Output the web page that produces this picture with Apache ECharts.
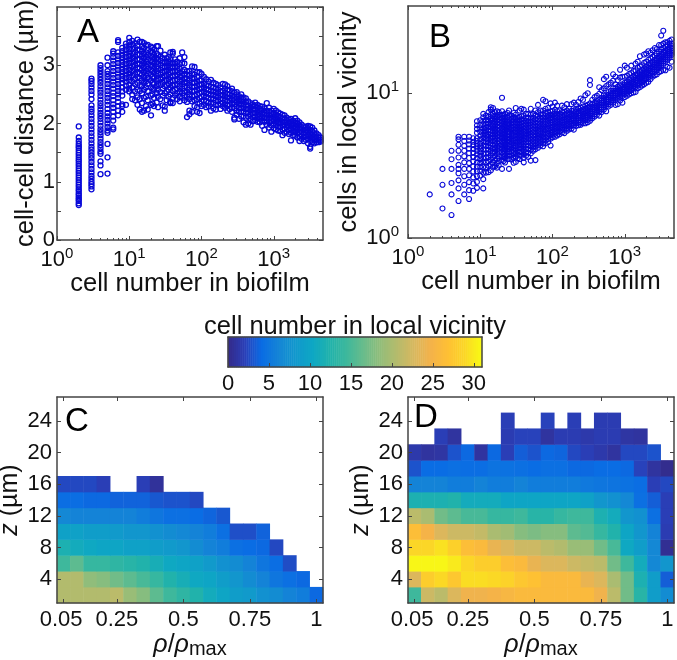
<!DOCTYPE html>
<html><head><meta charset="utf-8">
<script src="https://cdn.jsdelivr.net/npm/echarts@6/dist/echarts.min.js"></script>
<style>html,body{margin:0;padding:0;background:#fff}#c{width:677px;height:660px}</style>
</head><body><div id="c"></div>
<script>
const xA=[2,3,4,5,6,7,8,9,10,11,12,13,14,15,16,17,18,20,21,22,24,25,27,29,31,33,35,37,40,43,46,50,54,58,63,68,74,80,87,94,100,108,116,125,135,146,158,170,183,197,212,228,245,264,285,307,330,355,382,411,443,477,514,553,595,641,690,743,800,861,927,1000,1070,1150,1230,1320,1410,1510,1620,1730,1850,1980,2120,2270,2430,2600,2780,2980,3190,3410,3650,3900,4170,4450];
const yA=[
[.6,.63,.67,.7,.73,.77,.8,.84,.87,.91,.95,.99,1.03,1.07,1.11,1.15,1.19,1.23,1.27,1.31,1.35,1.38,1.42,1.46,1.5,1.54,1.58,1.61,1.65,1.7,1.76,1.95],
[.87,.92,.96,1,1.05,1.1,1.16,1.22,1.28,1.34,1.4,1.45,1.5,1.55,1.6,1.66,1.72,1.78,1.84,1.9,1.96,2.02,2.08,2.14,2.2,2.25,2.31,2.42,2.5,2.56,2.62,2.68,2.73,2.77],
[1.13,1.28,1.35,1.48,1.52,1.58,1.63,1.68,1.74,1.8,1.85,1.9,1.96,2.02,2.08,2.13,2.18,2.24,2.3,2.35,2.41,2.47,2.53,2.58,2.64,2.7,2.75,2.8,2.85,2.9,2.95,3],
[1.14,1.42,1.65,1.84,1.88,1.94,2,2.06,2.12,2.18,2.25,2.32,2.38,2.44,2.5,2.56,2.62,2.68,2.74,2.8,2.85,2.9,3,3.13],
[1.9,1.93,2.05,2.12,2.2,2.27,2.33,2.4,2.47,2.53,2.6,2.66,2.72,2.78,2.84,2.9,2.96,3.02,3.08,3.14,3.2,3.24],
[2.14,2.22,2.3,2.37,2.44,2.5,2.56,2.62,2.68,2.74,2.8,2.86,2.92,2.98,3.04,3.1,3.16,3.22,3.4,3.43],
[2.2,2.3,2.33,2.48,2.55,2.62,2.7,2.76,2.82,2.88,2.94,3,3.06,3.12,3.18,3.24,3.3],
[2.32,2.58,2.65,2.72,2.78,2.84,2.9,2.96,3.02,3.08,3.14,3.2,3.26,3.32,3.37],
[2.55,2.6,2.66,2.74,2.8,2.86,2.92,2.98,3.04,3.1,3.16,3.22,3.28,3.34,3.4,3.47],
[2.42,2.5,2.62,2.72,2.82,2.9,2.98,3.05,3.12,3.2,3.28,3.36,3.42],
[2.4,2.55,2.68,2.76,2.85,2.93,3,3.08,3.15,3.22,3.3,3.38],
[2.32,2.45,2.58,2.7,2.8,2.88,2.96,3.03,3.1,3.18,3.26,3.34,3.44],
[2.24,2.42,2.56,2.66,2.78,2.86,2.95,3.02,3.1,3.19,3.27,3.4],
[2.2,2.35,2.52,2.64,2.74,2.84,2.92,3,3.07,3.16,3.24,3.32,3.4],
[2.22,2.44,2.58,2.7,2.8,2.88,2.96,3.04,3.12,3.2,3.3,3.38],
[2.3,2.46,2.62,2.72,2.82,2.9,2.98,3.06,3.14,3.22,3.34],
[2.24,2.4,2.56,2.68,2.78,2.86,2.94,3.02,3.1,3.18,3.26,3.35],
[2.14,2.32,2.48,2.62,2.74,2.84,2.92,3,3.08,3.16,3.24,3.32],
[2.34,2.5,2.6,2.7,2.8,2.9,2.99,3.06,3.14,3.22,3.3],
[2.3,2.44,2.58,2.68,2.78,2.87,2.95,3.03,3.11,3.18,3.27],
[2.36,2.52,2.64,2.74,2.82,2.9,2.98,3.05,3.12,3.2,3.33],
[2.28,2.46,2.58,2.68,2.77,2.86,2.94,3.02,3.1,3.17,3.33],
[2.42,2.54,2.66,2.76,2.84,2.92,3,3.08,3.15,3.25],
[2.31,2.48,2.6,2.7,2.79,2.88,2.96,3.04,3.12],
[2.22,2.29,2.52,2.64,2.74,2.82,2.9,2.98,3.06,3.18],
[2.4,2.55,2.66,2.74,2.82,2.9,2.97,3.04,3.12],
[2.46,2.58,2.68,2.76,2.84,2.92,2.99,3.06,3.14],
[2.35,2.36,2.37,2.5,2.62,2.72,2.8,2.88,2.96,3.03,3.1,3.22],
[2.35,2.44,2.56,2.66,2.74,2.82,2.9,2.98,3.05,3.2,3.23],
[2.48,2.58,2.66,2.74,2.82,2.89,2.96,3.03,3.1],
[2.42,2.52,2.6,2.68,2.76,2.84,2.91,2.98,3.06],
[2.38,2.46,2.55,2.64,2.72,2.8,2.87,2.94,3.02,3.12],
[2.44,2.52,2.6,2.68,2.75,2.82,2.9,3.04,3.22],
[2.4,2.48,2.56,2.64,2.71,2.78,2.85,2.92,3.03,3.14],
[2.11,2.37,2.46,2.54,2.62,2.7,2.77,2.84,2.9],
[2.16,2.22,2.42,2.5,2.58,2.66,2.74,2.82,2.9],
[2.2,2.38,2.47,2.55,2.63,2.7,2.78,2.86,2.98],
[2.3,2.4,2.48,2.56,2.63,2.7,2.77,2.84,2.97],
[2.2,2.28,2.42,2.5,2.58,2.65,2.72,2.8,2.88],
[2.18,2.34,2.44,2.52,2.6,2.67,2.74,2.88],
[2.3,2.38,2.46,2.54,2.6,2.67,2.74,2.85],
[2.32,2.4,2.48,2.55,2.62,2.69,2.8],
[2.28,2.38,2.46,2.52,2.59,2.66,2.76],
[2.3,2.36,2.44,2.51,2.58,2.65,2.72],
[2.22,2.34,2.42,2.5,2.56,2.63,2.75],
[2.26,2.36,2.43,2.49,2.55,2.62,2.7],
[2.24,2.32,2.4,2.47,2.54,2.6,2.68],
[2.32,2.38,2.45,2.52,2.58,2.66],
[2.25,2.34,2.42,2.48,2.55,2.62],
[2.3,2.36,2.43,2.49,2.56,2.68],
[2.27,2.33,2.4,2.47,2.53,2.6,2.67],
[2.22,2.31,2.38,2.45,2.51,2.58,2.64],
[2.25,2.33,2.39,2.44,2.5,2.57],
[2.2,2.28,2.35,2.42,2.48,2.55,2.6],
[2.07,2.1,2.26,2.33,2.4,2.46,2.53],
[2.15,2.22,2.3,2.37,2.43,2.5,2.54],
[2.08,2.2,2.27,2.34,2.4,2.47],
[2.12,2.2,2.26,2.32,2.38,2.44,2.5],
[2.02,2.13,2.21,2.28,2.34,2.4,2.45],
[1.98,2.1,2.18,2.25,2.31,2.37,2.43],
[2,2.12,2.19,2.25,2.31,2.38],
[1.98,2.08,2.15,2.22,2.28,2.35],
[2.04,2.11,2.18,2.24,2.3,2.33],
[2.06,2.12,2.18,2.24,2.3,2.36],
[2.03,2.09,2.15,2.21,2.27,2.32],
[2.02,2.08,2.13,2.19,2.25,2.3],
[1.96,2.05,2.11,2.17,2.23,2.29],
[1.89,2.03,2.09,2.15,2.2,2.26],
[1.98,2.04,2.1,2.16,2.22,2.35],
[1.93,2.02,2.08,2.14,2.2,2.27],
[1.86,1.97,2.04,2.1,2.16,2.22],
[1.92,2,2.06,2.12,2.18,2.25],
[1.9,1.97,2.03,2.09,2.15,2.22],
[1.88,1.95,2.01,2.07,2.13,2.19],
[1.87,1.94,2,2.05,2.11,2.17],
[1.8,1.9,1.97,2.03,2.09,2.15],
[1.84,1.91,1.97,2.02,2.08,2.14],
[1.86,1.93,1.98,2.04,2.1],
[1.82,1.89,1.95,2.01,2.07],
[1.71,1.84,1.91,1.97,2.03,2.08],
[1.8,1.87,1.93,1.99,2.05],
[1.79,1.85,1.91,1.96,2.02,2.09],
[1.76,1.83,1.89,1.94,2,2.05],
[1.7,1.78,1.85,1.91,1.96,2.02],
[1.74,1.8,1.86,1.92,1.98],
[1.7,1.77,1.83,1.89,1.95],
[1.72,1.78,1.84,1.89,1.94],
[1.66,1.74,1.8,1.86,1.92,1.96],
[1.57,1.6,1.7,1.77,1.83,1.89,1.95],
[1.68,1.74,1.8,1.86,1.93],
[1.66,1.71,1.77,1.83,1.88],
[1.68,1.73,1.78,1.83],
[1.68,1.72,1.76,1.8],
[1.69,1.72,1.76]];

const xB=[2,3,4,5,6,7,8,9,10,11,12,13,14,15,16,17,18,20,21,22,24,25,27,29,31,33,35,37,40,43,46,50,54,58,63,68,74,80,87,94,100,108,116,125,135,146,158,170,183,197,212,228,245,264,285,307,330,355,382,411,443,477,514,553,595,641,690,743,800,861,927,1000,1070,1150,1230,1320,1410,1510,1620,1730,1850,1980,2120,2270,2430,2600,2780,2980,3190,3410,3650,3900,4170,4450];
const yB=[
[2],[1.6,2.33,3],[1.44,2,2.4,3,3.5,4],[1.8,2.2,2.5,2.8,3,3.2,3.6,4,4.4,4.8,5],
[2,2.33,2.67,3,3.33,3.67,4,4.33,4.67,5],
[1.86,2.14,2.43,2.71,3,3.29,3.57,3.86,4.14,4.43,4.71,5],
[2.12,2.38,2.62,2.88,3.12,3.38,3.62,3.88,4.12,4.38,4.62,4.88],
[2.22,2.44,2.67,2.89,3.11,3.33,3.56,3.78,4,4.22,4.44,4.67,4.89,5.33,5.67,6,6.4],
[2.7,2.9,3.1,3.3,3.5,3.7,3.9,4.1,4.3,4.5,4.8,5.1,5.4,5.7,6,6.5],
[2.2,2.55,2.82,3.09,3.36,3.55,3.82,4.09,4.36,4.64,4.91,5.18,5.45,5.73,6.09,6.45,6.82,7.2],
[2.83,3.08,3.33,3.58,3.83,4.08,4.33,4.58,4.83,5.08,5.33,5.58,5.83,6.17,6.5,7],
[2.85,3.15,3.38,3.62,3.85,4.08,4.31,4.54,4.77,5,5.23,5.54,5.85,6.15,6.46,6.85,7.4],
[2.93,3.21,3.5,3.71,4,4.21,4.5,4.71,4.93,5.21,5.5,5.79,6.07,6.43,6.71,7.1,7.7,8],
[3.07,3.33,3.6,3.87,4.13,4.4,4.67,4.93,5.2,5.47,5.73,6,6.27,6.6,6.93,7.2,7.9],
[3.13,3.44,3.69,3.94,4.19,4.44,4.69,4.94,5.19,5.44,5.69,6,6.31,6.63,6.94,7.4],
[3.06,3.29,3.53,3.82,4.06,4.29,4.53,4.82,5.06,5.29,5.59,5.88,6.18,6.47,6.82,7.5],
[3.17,3.39,3.67,3.94,4.17,4.44,4.67,4.94,5.17,5.44,5.72,6,6.33,6.67,7.06,7.4],
[3,3.45,3.65,3.9,4.15,4.35,4.6,4.85,5.05,5.3,5.55,5.8,6.1,6.4,6.75,7.1,7.5,9.3],
[3.4,3.62,3.81,4,4.19,4.38,4.57,4.76,4.95,5.14,5.38,5.62,5.86,6.14,6.43,6.76,7.1],
[3.32,3.55,3.73,3.95,4.14,4.32,4.55,4.73,4.95,5.18,5.41,5.64,5.91,6.18,6.5,6.82,7.2],
[3.5,3.7,3.92,4.12,4.33,4.54,4.75,4.96,5.2,5.42,5.67,5.92,6.2,6.5,6.85,7.3],
[3,3.52,3.72,3.92,4.12,4.32,4.56,4.76,5,5.2,5.44,5.72,6,6.28,6.6,7,7.6],
[3.48,3.7,3.93,4.15,4.37,4.59,4.81,5.04,5.26,5.52,5.78,6.04,6.33,6.67,7],
[3.31,3.59,3.79,4,4.21,4.41,4.66,4.86,5.1,5.34,5.59,5.86,6.14,6.48,6.83,7.3],
[3.35,3.65,3.87,4.1,4.32,4.55,4.77,5,5.23,5.48,5.74,6,6.29,6.65,7.1,7.9],
[3.55,3.76,3.97,4.18,4.39,4.61,4.85,5.09,5.33,5.58,5.85,6.15,6.48,6.8],
[3.51,3.71,3.94,4.17,4.4,4.63,4.86,5.09,5.34,5.6,5.86,6.17,6.49,6.86,7.6],
[3.7,3.92,4.14,4.35,4.57,4.78,5,5.24,5.49,5.73,6,6.3,6.6,6.95,7.8],
[3.33,3.58,3.8,4.03,4.25,4.48,4.7,4.93,5.18,5.43,5.68,5.95,6.25,6.58,6.95,7.7],
[3.7,3.91,4.14,4.37,4.6,4.84,5.07,5.3,5.56,5.81,6.09,6.4,6.74,7.2],
[3.63,3.89,4.11,4.35,4.59,4.83,5.07,5.3,5.57,5.83,6.13,6.43,6.78,7.2],
[3.42,3.84,4.06,4.3,4.52,4.76,5,5.24,5.5,5.76,6.04,6.34,6.68,7.1,7.8],
[4,4.22,4.44,4.65,4.87,5.11,5.35,5.59,5.85,6.13,6.44,6.78,7.2],
[3.45,4.1,4.31,4.53,4.76,5,5.22,5.47,5.72,6,6.29,6.62,7,7.6],
[4.2,4.4,4.62,4.84,5.05,5.27,5.5,5.75,6,6.3,6.6,6.95,7.4,8.3],
[4.35,4.56,4.78,5,5.22,5.44,5.68,5.93,6.18,6.47,6.78,7.15,7.6],
[4.3,4.5,4.73,4.95,5.18,5.4,5.65,5.89,6.15,6.43,6.76,7.1,7.6,9],
[4.5,4.72,4.95,5.17,5.4,5.62,5.85,6.1,6.36,6.65,6.96,7.3,7.8,8.8],
[4.6,4.83,5.05,5.26,5.48,5.7,5.93,6.17,6.44,6.72,7.03,7.4,7.9],
[4.35,4.85,5.1,5.32,5.54,5.76,6,6.24,6.5,6.78,7.1,7.5,8.5],
[4.95,5.16,5.38,5.6,5.82,6.05,6.3,6.56,6.85,7.15,7.5,8.1],
[5,5.24,5.46,5.68,5.9,6.14,6.38,6.64,6.92,7.24,7.7,8.6],
[5.1,5.34,5.57,5.8,6.03,6.27,6.52,6.8,7.1,7.5,8.2],
[5.2,5.45,5.68,5.9,6.13,6.37,6.62,6.9,7.2,7.6],
[5.35,5.58,5.8,6.03,6.27,6.5,6.76,7.05,7.4,8.2],
[5.3,5.6,5.85,6.08,6.32,6.56,6.82,7.1,7.45,8],
[5.5,5.72,5.95,6.18,6.42,6.67,6.95,7.25,7.6,8.4],
[5.62,5.86,6.1,6.33,6.57,6.82,7.1,7.4,7.8],
[5.7,5.94,6.18,6.42,6.66,6.92,7.2,7.55,8.4],
[5.6,6,6.25,6.5,6.74,7,7.28,7.6,8.6],
[5.95,6.2,6.44,6.68,6.92,7.18,7.47,7.8,8.3],
[6,6.25,6.5,6.74,6.98,7.24,7.52,7.85,8.7],
[6.05,6.3,6.54,6.78,7.03,7.3,7.6,7.95,9.2],
[6.2,6.44,6.68,6.92,7.17,7.43,7.72,8.1,9],
[6.2,6.5,6.76,7,7.25,7.52,7.82,8.2,9.7],
[6.3,6.58,6.85,7.1,7.36,7.63,7.95,8.3,10],
[6.45,6.72,6.98,7.24,7.5,7.78,8.1,8.5,11.4,12.3],
[6.7,6.96,7.22,7.48,7.75,8.05,8.4,9],
[6.9,7.16,7.42,7.68,7.95,8.25,8.6,9.4],
[7.1,7.36,7.62,7.88,8.15,8.45,8.8,9.6],
[7,7.45,7.72,8,8.3,8.62,9,9.9,11],
[7.4,7.7,8,8.28,8.56,8.88,9.25,10.5],
[7.7,8,8.28,8.58,8.9,9.25,9.65,10.8,12.5],
[7.5,8.15,8.45,8.75,9.05,9.4,9.8,11.2,13],
[8.1,8.42,8.72,9.03,9.35,9.7,10.2,11.5],
[8.3,8.65,8.95,9.27,9.6,9.98,10.4,11.8],
[8.6,8.95,9.27,9.6,9.95,10.35,10.8,12.2,13.5],
[8.3,9,9.35,9.68,10,10.4,10.85,11.5,13],
[8.4,9.2,9.55,9.9,10.25,10.65,11.1,12.3],
[8.9,9.4,9.75,10.1,10.45,10.85,11.3,12.8,14.5],
[8.6,9.6,9.95,10.3,10.65,11.05,11.5,13],
[9.4,9.85,10.2,10.55,10.9,11.35,11.8,13,15.5],
[9.6,10,10.35,10.72,11.1,11.5,12,13.2,15],
[9.8,10.3,10.68,11.05,11.45,11.9,12.4,13.6],
[10,10.5,10.9,11.3,11.7,12.15,12.7,13.8,15.5],
[10.1,10.75,11.15,11.55,12,12.45,13,14.2],
[10.2,11,11.42,11.85,12.3,12.78,13.3,14.4,16],
[10.8,11.3,11.75,12.2,12.65,13.15,13.7,15,16.5],
[11,11.6,12.05,12.5,12.95,13.45,14,15.3,18],
[11.3,11.85,12.3,12.8,13.3,13.8,14.4,15.6],
[11.5,12.15,12.65,13.15,13.65,14.2,14.8,16.2,18.5],
[11.8,12.5,13,13.5,14,14.6,15.2,16.5,18.8],
[12,12.8,13.3,13.85,14.4,15,15.7,17,19.5],
[12.5,13.2,13.7,14.25,14.8,15.4,16.1,17.4,19],
[13,13.6,14.1,14.65,15.2,15.8,16.5,17.8,19.8],
[13.3,14,14.55,15.1,15.7,16.3,17,18.2,20.5],
[13.5,14.4,15,15.6,16.2,16.8,17.5,18.8,20.2],
[14,14.9,15.5,16.1,16.7,17.4,18.1,19.4,21.5],
[14.2,15.4,16,16.6,17.2,17.9,18.7,20,21.5,25],
[14.5,16,16.6,17.2,17.8,18.5,19.3,20.6,22,27],
[14.4,16.5,17.1,17.7,18.3,19,19.8,21,22.5],
[15.2,17,17.6,18.2,18.8,19.5,20.2,21.5,22.5],
[15,17.6,18.2,18.8,19.4,20,20.8,22,23],
[16.5,18.4,19,19.6,20.4,21.2,22,23.5]];

const rhoLabels=['0.05','0.1','0.15','0.2','0.25','0.3','0.35','0.4','0.45','0.5','0.55','0.6','0.65','0.7','0.75','0.8','0.85','0.9','0.95','1'];
const zLabels=['2','4','6','8','10','12','14','16','18','20','22','24','26'];
const _=null;
const heatC=[
[20.5,20.5,20.5,20.5,21,19,18,16,14.5,13.5,12.5,11,10,9,8.5,7.5,7,6,5.5,4],
[20.5,20.5,18.5,18,17,16,15,14,12.5,11.5,10.5,10,9,8,7,6,5,4.5,4,_],
[14.5,16,14,14,13.5,13,12.5,11.5,10.5,10,9.5,8.5,7.5,7,6,5,4.3,2.7,_,_],
[12,11,10.5,10,10,9.5,9.5,9,8.5,8,7,6,5.5,4.5,4.2,4,2.5,_,_,_],
[9.5,9.5,9,9,8.5,8,8,7.5,7,6.5,6,5.5,4.5,2.8,2.8,3.7,_,_,_,_],
[6.5,6,6,6,6,6,5.5,5,4.5,4.5,4.2,3.8,3.2,_,_,_,_,_,_,_],
[4.3,4.3,4,4,3.7,3.7,3.7,3.2,3,3,2.5,_,_,_,_,_,_,_,_,_],
[2.5,2.5,2.5,2,_,_,2,.8,_,_,_,_,_,_,_,_,_,_,_,_]];
const heatD=[
[14.5,22,21,23,24.5,24.5,25,25.5,26,26,26,26,26,26,24.5,21,17,13,9,7],
[23,28,29,27.5,29.3,29.3,29,28.5,27.5,27,26,26,26,24,23,20,17,12,9,3.5],
[30.7,30.7,30.7,30,28.8,28,28,26.5,26,24,23,23,22,21.5,21,17,14.5,11,6.5,8],
[28.8,28.8,29.5,28.3,26.5,26,24,23,22,22,21,20.5,19,19,17,15,10.5,9,6.5,.5],
[26.5,25,23,22,22,21.5,20,19.5,18,17.5,18,18,16,15.5,14,12.5,10,8,6,1.8],
[21,20,17,16,15,15,14,14,14.5,13,13,14,14.5,14.5,12,11,8,7.5,4.5,2],
[12,12,12,12.5,11,11,11,10,10,10,10,10,10,9.5,8,7.5,6.5,4.5,3.5,2],
[6,6,6,5.5,5.5,6,5.5,5.5,6,5.5,5.5,5.5,5.5,5.2,5,4.8,4.6,4.3,2,2.5],
[3,4.2,4.2,4.5,4.3,4.3,4.7,4.6,4.5,4.2,4.5,4.5,4,4,4.2,4.2,4,2.2,1,.3],
[1.5,1,1.2,3,4,1,4,2,3.5,3,4,3.8,2.5,2,1.5,1,2.5,2.5,3,_],
[_,_,2,1,_,_,_,1.8,2.2,2.2,1,1.8,1.8,1.5,1.8,1.8,1.2,1,_,_],
[_,_,_,_,_,_,_,2,_,_,2.2,_,2,_,1.8,1.8,_,_,_,_]];
const colorStops=['#352a87','#2a3fb8','#0a6ce4','#1585d6','#1198cc','#0ea7c4','#20b2ac','#3db89c','#68bc8c','#92bd7a','#b5bb6c','#d8b85f','#f4b24a','#fec034','#fbd726','#f8fb14'];
const barTicks=[0,5,10,15,20,25,30];
const barMax=31, barStep=.25;

const font='"Liberation Sans", Arial, sans-serif', ink='#111', line='#444';
const pairs=(xs,ys)=>xs.flatMap((x,i)=>ys[i].map(y=>[x,y]));
const cells=m=>m.flatMap((r,j)=>r.map((v,i)=>[i,j,v]).filter(d=>d[2]!==null));
const axLine={show:true,onZero:false,lineStyle:{color:line,width:1.5}};
const sup={a:{fontSize:22,fontFamily:font,color:ink},b:{fontSize:15,fontFamily:font,color:ink,padding:[0,0,12,0]}};
const logFmt=v=>{const e=Math.log10(v);return Math.abs(e-Math.round(e))<1e-6?'{a|10}{b|'+Math.round(e)+'}':''};
const nameStyle={fontSize:25.5,fontFamily:font,color:ink};
function xLog(g,pos,name,gap){return {type:'log',logBase:10,gridIndex:g,position:pos,min:1,max:4800,z:5,axisLine:axLine,splitLine:{show:false},
  axisTick:{show:true,inside:true,length:4,lineStyle:{color:line}},
  axisLabel:pos==='bottom'?{show:true,formatter:logFmt,rich:sup,margin:6,showMaxLabel:false}:{show:false},
  name:name||'',nameLocation:'middle',nameGap:gap||0,nameTextStyle:nameStyle};}
function minorX(g,pos){return {type:'log',logBase:10,gridIndex:g,position:pos,min:1,max:4800,z:5,axisLine:{show:false},splitLine:{show:false},axisLabel:{show:false},
  axisTick:{show:true,inside:true,length:2,lineStyle:{color:line},customValues:[2,3,4,5,6,7,8,9,20,30,40,50,60,70,80,90,200,300,400,500,600,700,800,900,2000,3000,4000]}};}
function catX(g,pos,name){const keep=(i)=>[0,4,9,14,19].includes(i);return {type:'category',data:rhoLabels,gridIndex:g,position:pos,z:5,axisLine:axLine,splitLine:{show:false},
  axisTick:{show:true,inside:true,length:4,alignWithLabel:true,interval:keep,lineStyle:{color:line}},
  axisLabel:pos==='bottom'?{show:true,interval:keep,fontSize:22,fontFamily:font,color:ink,margin:6,
    formatter:(v,i)=>i===0?'{f|'+v+'}':v,rich:{f:{fontSize:22,fontFamily:font,color:ink,padding:[0,5,0,0]}}}:{show:false},
  name:pos==='bottom'?name:'',nameLocation:'middle',nameGap:28,
  nameTextStyle:{rich:{i:{fontSize:25,fontStyle:'italic',fontFamily:font,color:ink},n:{fontSize:25,fontFamily:font,color:ink},s:{fontSize:20,fontFamily:font,color:ink,padding:[8,0,0,0]}}}};}
function catY(g,pos,name,gap){const keep=(i)=>i%2===1&&i<=11;return {type:'category',data:zLabels,gridIndex:g,position:pos,z:5,axisLine:axLine,splitLine:{show:false},
  axisTick:{show:true,inside:true,length:4,alignWithLabel:true,interval:keep,lineStyle:{color:line}},
  axisLabel:pos==='left'?{show:true,interval:keep,fontSize:22,fontFamily:font,color:ink,margin:5}:{show:false},
  name:pos==='left'?name:'',nameLocation:'middle',nameGap:gap,nameRotate:90,
  nameTextStyle:{rich:{i:{fontSize:25,fontStyle:'italic',fontFamily:font,color:ink},n:{fontSize:25,fontFamily:font,color:ink}}}};}
function heat(gx,gy,d){return {type:'heatmap',xAxisIndex:gx,yAxisIndex:gy,data:d,itemStyle:{borderWidth:0},emphasis:{disabled:true}};}
function dots(gx,gy,d,w){return {type:'scatter',xAxisIndex:gx,yAxisIndex:gy,data:d,symbol:'circle',symbolSize:5,large:false,progressive:0,
  itemStyle:{color:'rgba(0,0,0,0)',borderColor:'#0808d8',borderWidth:w,opacity:1},emphasis:{disabled:true}};}
const letter=(t,x,y)=>({type:'text',x:x,y:y,z:20,style:{text:t,fontSize:33,fontFamily:font,fill:'#000',textAlign:'center',textVerticalAlign:'middle'}});

const barCats=[],barData=[];
for(let i=0;i*barStep<barMax;i++){barCats.push(String(i));barData.push([i,0,(i+.5)*barStep]);}

const yLinA={type:'value',gridIndex:0,position:'left',min:0,max:4,interval:.5,z:5,axisLine:axLine,splitLine:{show:false},
  axisTick:{show:true,inside:true,length:4,lineStyle:{color:line}},
  axisLabel:{show:true,fontSize:22,fontFamily:font,color:ink,margin:2,showMaxLabel:false,formatter:v=>Number.isInteger(v)&&v<4?String(v):''},
  name:'cell-cell distance (µm)',nameLocation:'middle',nameGap:16,nameTextStyle:nameStyle};
const yLinA2={type:'value',gridIndex:0,position:'right',min:0,max:4,interval:.5,z:5,axisLine:axLine,splitLine:{show:false},
  axisTick:{show:true,inside:true,length:4,lineStyle:{color:line}},axisLabel:{show:false}};
function yLog(pos,name){return {type:'log',logBase:10,gridIndex:1,position:pos,min:1,max:40,z:5,axisLine:axLine,splitLine:{show:false},
  axisTick:{show:true,inside:true,length:4,lineStyle:{color:line}},
  axisLabel:pos==='left'?{show:true,formatter:logFmt,rich:sup,margin:9,showMaxLabel:false}:{show:false},
  name:name||'',nameLocation:'middle',nameGap:32,nameTextStyle:nameStyle};}
const hiddenVal=(g,pos)=>({type:'value',gridIndex:g,position:pos,min:0,max:1,show:false});
const box=(left,top,width,height)=>({left,top,width,height,outerBoundsMode:'none'});

const opt={
 animation:false,backgroundColor:'#fff',textStyle:{fontFamily:font},
 grid:[box(57,7,266,233),box(408,6,266,232),box(57,397,266,206),box(408,397,266,206),box(228,337,254,30),box(57,7,266,233),box(408,6,266,232)],
 xAxis:[
  xLog(0,'bottom','cell number in biofilm',30),xLog(0,'top'),
  xLog(1,'bottom','cell number in biofilm',30),xLog(1,'top'),
  catX(2,'bottom','{i|ρ}{n|/}{i|ρ}{s|max}'),catX(2,'top'),
  catX(3,'bottom','{i|ρ}{n|/}{i|ρ}{s|max}'),catX(3,'top'),
  {type:'category',data:barCats,gridIndex:4,position:'top',z:5,axisLine:axLine,axisTick:{show:false},axisLabel:{show:false},splitLine:{show:false}},
  {type:'value',gridIndex:4,position:'bottom',min:0,max:barMax,z:5,axisLine:axLine,splitLine:{show:false},
   axisTick:{show:true,inside:true,length:4,lineStyle:{color:line},customValues:barTicks},
   axisLabel:{show:true,customValues:barTicks,fontSize:22,fontFamily:font,color:ink,margin:6},
   name:'cell number in local vicinity',nameLocation:'middle',nameGap:-53,nameTextStyle:nameStyle},
  minorX(5,'bottom'),minorX(5,'top'),minorX(6,'bottom'),minorX(6,'top')],
 yAxis:[
  yLinA,yLinA2,
  yLog('left','cells in local vicinity'),yLog('right'),
  catY(2,'left','{i|z}{n| (µm)}',34),catY(2,'right'),
  catY(3,'left','{i|z}{n| (µm)}',34),catY(3,'right'),
  {type:'category',data:['c'],gridIndex:4,position:'left',z:5,axisLine:axLine,axisTick:{show:false},axisLabel:{show:false}},
  {type:'category',data:['c'],gridIndex:4,position:'right',z:5,axisLine:axLine,axisTick:{show:false},axisLabel:{show:false}},
  hiddenVal(5,'left'),hiddenVal(6,'left')],
 visualMap:{show:false,type:'continuous',min:0,max:barMax,dimension:2,seriesIndex:[2,3,4],inRange:{color:colorStops}},
 series:[
  dots(0,0,pairs(xA,yA),1.3),
  dots(2,2,pairs(xB,yB),1.1),
  heat(4,4,cells(heatC)),
  heat(6,6,cells(heatD)),
  heat(8,8,barData)],
 graphic:[letter('A',88,33),letter('B',440,38),letter('C',77,422),letter('D',426,418)]
};
const chart=echarts.init(document.getElementById('c'),null,{renderer:'canvas'});
chart.setOption(opt);
</script></body></html>
